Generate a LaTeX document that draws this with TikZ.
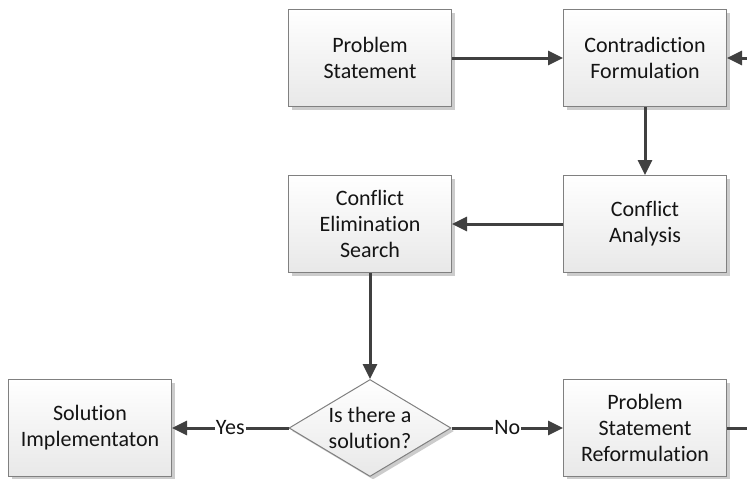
\documentclass[tikz,border=0pt]{standalone}
\usepackage{fontspec}
\setmainfont{Carlito}[Ligatures=CommonOff]
\usepackage{tikz}
\usetikzlibrary{arrows.meta, shapes.geometric, shadows, positioning}

\begin{document}
\begin{tikzpicture}[x=1pt, y=-1pt,
    every node/.style={font=\fontsize{22}{26}\selectfont, text=black!92},
    procbox/.style={draw=black!50, line width=1pt, rectangle, align=center,
      minimum width=163pt, minimum height=97pt, inner sep=2pt,
      top color=white, bottom color=black!9,
      drop shadow={shadow xshift=3pt, shadow yshift=-3pt, fill=black!20, opacity=1}},
    decision/.style={draw=black!50, line width=1pt, diamond, align=center,
      minimum width=162pt, minimum height=97pt, inner sep=0pt, aspect=1.69,
      top color=white, bottom color=black!9,
      drop shadow={shadow xshift=3pt, shadow yshift=-3pt, fill=black!20, opacity=1}},
    flow/.style={draw=black!75, line width=3pt, -{Triangle[length=15pt, width=14pt]}},
    answer/.style={fill=white, inner sep=1pt}]
  \clip (0,0) rectangle (747,479);

  \node[procbox] (statement) at (370,58) {Problem\\Statement};
  \node[procbox] (formulation) at (645,58) {Contradiction\\Formulation};
  \node[procbox] (analysis) at (645,224) {Conflict\\Analysis};
  \node[procbox] (search) at (370,224) {Conflict\\Elimination\\Search};
  \node[decision] (solved) at (370,428) {Is there a\\solution?};
  \node[procbox] (implement) at (90,428) {Solution\\Implementaton};
  \node[procbox] (reform) at (645,428) {Problem\\Statement\\Reformulation};

  \draw[flow] (statement) -- (formulation);
  \draw[flow] (formulation) -- (analysis);
  \draw[flow] (analysis) -- (search);
  \draw[flow] (search) -- (solved);
  \draw[flow] (solved) -- node[answer] {Yes} (implement);
  \draw[flow] (solved) -- node[answer] {No} (reform);
  % loop back, runs off the right edge
  \draw[flow] (reform.east) -- ++(40,0) |- (formulation.east);
\end{tikzpicture}
\end{document}
